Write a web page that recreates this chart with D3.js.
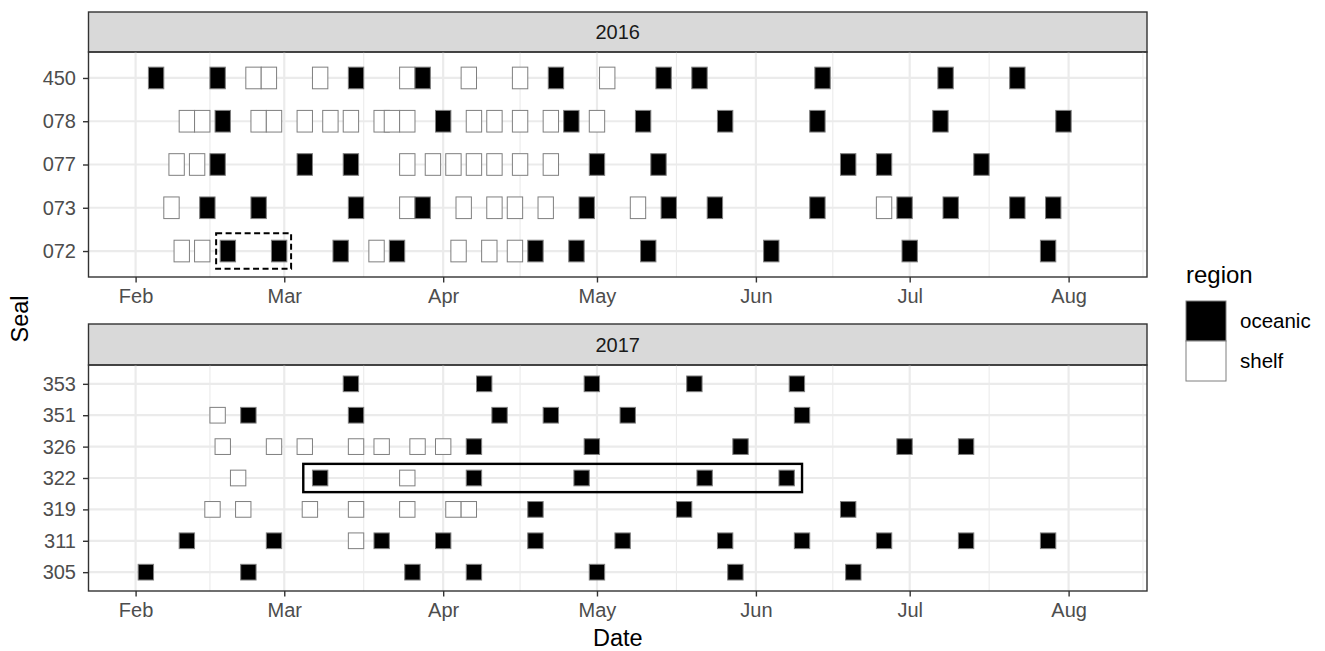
<!DOCTYPE html>
<html>
<head>
<meta charset="utf-8">
<script src="https://cdn.jsdelivr.net/npm/d3@7"></script>
<style>
  html, body { margin: 0; padding: 0; background: #ffffff; }
  svg { display: block; }
</style>
</head>
<body>
<script>
// Seal locations by region, both seasons plotted on a common calendar.
const O = "oceanic", S = "shelf";
const regions = [O, S];
const regionFill = ["#000000", "#ffffff"];

const seals2016 = ["450", "078", "077", "073", "072"];
const seals2017 = ["353", "351", "326", "322", "319", "311", "305"];

const monthBreaks = ["02-01", "03-01", "04-01", "05-01", "06-01", "07-01", "08-01"];
const monthLabels = ["Feb", "Mar", "Apr", "May", "Jun", "Jul", "Aug"];

const fixes2016 = [
  ["450","02-05",O],["450","02-17",O],["450","02-24",S],["450","02-27",S],["450","03-08",S],
  ["450","03-15",O],["450","03-25",S],["450","03-28",O],["450","04-06",S],["450","04-16",S],
  ["450","04-23",O],["450","05-03",S],["450","05-14",O],["450","05-21",O],["450","06-14",O],
  ["450","07-08",O],["450","07-22",O],

  ["078","02-11",S],["078","02-14",S],["078","02-18",O],["078","02-25",S],["078","02-28",S],
  ["078","03-05",S],["078","03-10",S],["078","03-14",S],["078","03-20",S],["078","03-22",S],
  ["078","03-25",S],["078","04-01",O],["078","04-07",S],["078","04-11",S],["078","04-16",S],
  ["078","04-22",S],["078","04-26",O],["078","05-01",S],["078","05-10",O],["078","05-26",O],
  ["078","06-13",O],["078","07-07",O],["078","07-31",O],

  ["077","02-09",S],["077","02-13",S],["077","02-17",O],["077","03-05",O],["077","03-14",O],
  ["077","03-25",S],["077","03-30",S],["077","04-03",S],["077","04-07",S],["077","04-11",S],
  ["077","04-16",S],["077","04-22",S],["077","05-01",O],["077","05-13",O],["077","06-19",O],
  ["077","06-26",O],["077","07-15",O],

  ["073","02-08",S],["073","02-15",O],["073","02-25",O],["073","03-15",O],["073","03-25",S],
  ["073","03-28",O],["073","04-05",S],["073","04-11",S],["073","04-15",S],["073","04-21",S],
  ["073","04-29",O],["073","05-09",S],["073","05-15",O],["073","05-24",O],["073","06-13",O],
  ["073","06-26",S],["073","06-30",O],["073","07-09",O],["073","07-22",O],["073","07-29",O],

  ["072","02-10",S],["072","02-14",S],["072","02-19",O],["072","02-29",O],["072","03-12",O],
  ["072","03-19",S],["072","03-23",O],["072","04-04",S],["072","04-10",S],["072","04-15",S],
  ["072","04-19",O],["072","04-27",O],["072","05-11",O],["072","06-04",O],["072","07-01",O],
  ["072","07-28",O]
];

const fixes2017 = [
  ["353","03-14",O],["353","04-09",O],["353","04-30",O],["353","05-20",O],["353","06-09",O],

  ["351","02-17",S],["351","02-23",O],["351","03-15",O],["351","04-12",O],["351","04-22",O],
  ["351","05-07",O],["351","06-10",O],

  ["326","02-18",S],["326","02-28",S],["326","03-05",S],["326","03-15",S],["326","03-20",S],
  ["326","03-27",S],["326","04-01",S],["326","04-07",O],["326","04-30",O],["326","05-29",O],
  ["326","06-30",O],["326","07-12",O],

  ["322","02-21",S],["322","03-08",O],["322","03-25",S],["322","04-07",O],["322","04-28",O],
  ["322","05-22",O],["322","06-07",O],

  ["319","02-16",S],["319","02-22",S],["319","03-06",S],["319","03-15",S],["319","03-25",S],
  ["319","04-03",S],["319","04-06",S],["319","04-19",O],["319","05-18",O],["319","06-19",O],

  ["311","02-11",O],["311","02-28",O],["311","03-15",S],["311","03-20",O],["311","04-01",O],
  ["311","04-19",O],["311","05-06",O],["311","05-26",O],["311","06-10",O],["311","06-26",O],
  ["311","07-12",O],["311","07-28",O],

  ["305","02-03",O],["305","02-23",O],["305","03-26",O],["305","04-07",O],["305","05-01",O],
  ["305","05-28",O],["305","06-20",O]
];

// Highlighted periods: [seal, from, to]
const highlight2016 = [["072", "02-16T17:00", "03-02T08:00"]];
const highlight2017 = [["322", "03-04T17:00", "06-10T00:00"]];

// ---------------------------------------------------------------
const toDate = md => new Date(`2016-${md}${md.includes("T") ? "" : "T00:00"}Z`);
const DAY = 864e5;
const tileDays = 3;

const W = 1325, H = 651;
const px0 = 88.5, px1 = 1147;
const font = "'Liberation Sans', Arial, Helvetica, sans-serif";

const svg = d3.select("body").append("svg")
  .attr("width", W).attr("height", H)
  .style("font-family", font);
svg.append("rect").attr("width", W).attr("height", H).attr("fill", "#ffffff");

const x = d3.scaleUtc()
  .domain([toDate("01-22T19:30"), toDate("08-16T07:00")])
  .range([px0, px1]);

const majors = monthBreaks.map(toDate);
const step = majors[1] - majors[0];
const ext = [new Date(+majors[0] - step), ...majors, new Date(+majors[majors.length - 1] + step)];
const [dmin, dmax] = x.domain();
const minors = d3.pairs(ext).map(([a, b]) => new Date((+a + +b) / 2))
  .filter(d => d >= dmin && d <= dmax);

const panels = [
  { year: "2016", seals: seals2016, fixes: fixes2016, boxes: highlight2016,
    stripTop: 12, top: 52, bottom: 277, boxHalf: 0.41, dash: "6,3.5", boxWidth: 2 },
  { year: "2017", seals: seals2017, fixes: fixes2017, boxes: highlight2017,
    stripTop: 324, top: 365, bottom: 591, boxHalf: 0.45, dash: null, boxWidth: 2.4 }
];

const fill = d3.scaleOrdinal().domain(regions).range(regionFill);

panels.forEach(p => {
  const y = d3.scalePoint().domain(p.seals).range([p.top, p.bottom]).padding(0.6);
  const g = svg.append("g");

  // strip
  g.append("rect")
    .attr("x", px0).attr("y", p.stripTop)
    .attr("width", px1 - px0).attr("height", p.top - p.stripTop)
    .attr("fill", "#d9d9d9").attr("stroke", "#333333").attr("stroke-width", 1.4);
  g.append("text")
    .attr("x", (px0 + px1) / 2).attr("y", (p.stripTop + p.top) / 2)
    .attr("dy", "0.36em").attr("text-anchor", "middle")
    .attr("font-size", 20).attr("fill", "#1a1a1a")
    .text(p.year);

  // grid
  const grid = g.append("g");
  grid.selectAll("line.minor").data(minors).join("line")
    .attr("x1", d => x(d)).attr("x2", d => x(d))
    .attr("y1", p.top).attr("y2", p.bottom)
    .attr("stroke", "#ebebeb").attr("stroke-width", 1.1);
  grid.selectAll("line.majx").data(majors).join("line")
    .attr("x1", d => x(d)).attr("x2", d => x(d))
    .attr("y1", p.top).attr("y2", p.bottom)
    .attr("stroke", "#ebebeb").attr("stroke-width", 2.2);
  grid.selectAll("line.majy").data(p.seals).join("line")
    .attr("x1", px0).attr("x2", px1)
    .attr("y1", d => y(d)).attr("y2", d => y(d))
    .attr("stroke", "#ebebeb").attr("stroke-width", 2.2);

  // tiles
  const h = y.step() * 0.5;
  g.append("g").selectAll("rect").data(p.fixes).join("rect")
    .attr("x", d => x(new Date(+toDate(d[1]) - tileDays / 2 * DAY)))
    .attr("width", d => x(new Date(+toDate(d[1]) + tileDays / 2 * DAY)) - x(new Date(+toDate(d[1]) - tileDays / 2 * DAY)))
    .attr("y", d => y(d[0]) - h / 2)
    .attr("height", h)
    .attr("fill", d => fill(d[2]))
    .attr("stroke", "#7f7f7f").attr("stroke-width", 1);

  // highlighted periods
  g.append("g").selectAll("rect").data(p.boxes).join("rect")
    .attr("x", d => x(toDate(d[1])))
    .attr("width", d => x(toDate(d[2])) - x(toDate(d[1])))
    .attr("y", d => y(d[0]) - p.boxHalf * y.step())
    .attr("height", 2 * p.boxHalf * y.step())
    .attr("fill", "none").attr("stroke", "#000000")
    .attr("stroke-width", p.boxWidth)
    .attr("stroke-dasharray", p.dash);

  // panel border
  g.append("rect")
    .attr("x", px0).attr("y", p.top)
    .attr("width", px1 - px0).attr("height", p.bottom - p.top)
    .attr("fill", "none").attr("stroke", "#333333").attr("stroke-width", 1.4);

  // axes
  const xa = g.append("g").attr("transform", `translate(0,${p.bottom})`)
    .call(d3.axisBottom(x).tickValues(majors).tickFormat((d, i) => monthLabels[i])
      .tickSize(5.5).tickPadding(6.5));
  const ya = g.append("g").attr("transform", `translate(${px0},0)`)
    .call(d3.axisLeft(y).tickSize(5.5).tickPadding(7));
  [xa, ya].forEach(a => {
    a.select(".domain").remove();
    a.selectAll(".tick line").attr("stroke", "#333333").attr("stroke-width", 1.4);
    a.selectAll(".tick text").attr("fill", "#4d4d4d")
      .attr("font-size", 20).attr("font-family", font);
  });
});

// axis titles
svg.append("text")
  .attr("x", (px0 + px1) / 2).attr("y", 646)
  .attr("text-anchor", "middle").attr("font-size", 23.5).attr("fill", "#000000")
  .text("Date");
svg.append("text")
  .attr("transform", "translate(28,319) rotate(-90)")
  .attr("text-anchor", "middle").attr("font-size", 23.5).attr("fill", "#000000")
  .text("Seal");

// legend
const lg = svg.append("g").attr("transform", "translate(1186,0)");
lg.append("text").attr("x", 0).attr("y", 283)
  .attr("font-size", 24).attr("fill", "#000000").text("region");
const keys = lg.selectAll("g.key").data(regions).join("g")
  .attr("transform", (d, i) => `translate(0,${301 + i * 40})`);
keys.append("rect").attr("width", 40).attr("height", 40)
  .attr("fill", d => fill(d)).attr("stroke", "#7f7f7f").attr("stroke-width", 1);
keys.append("text").attr("x", 54).attr("y", 20).attr("dy", "0.35em")
  .attr("font-size", 20.5).attr("fill", "#000000").text(d => d);
</script>
</body>
</html>
